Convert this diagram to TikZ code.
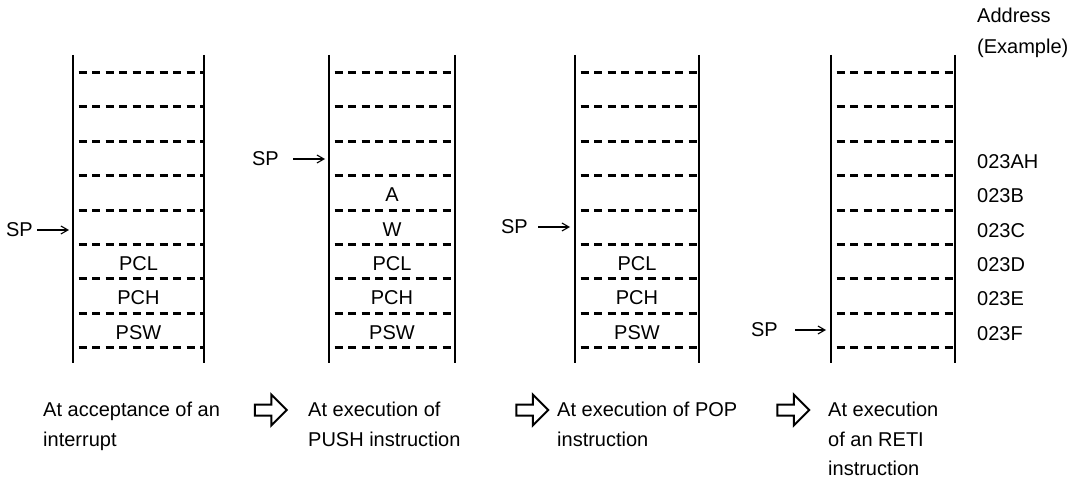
\documentclass[tikz,border=0pt]{standalone}
\usepackage{fontspec}
\setmainfont{Liberation Sans}
\usepackage{tikz}
\usetikzlibrary{positioning, arrows.meta, shapes.arrows}

\begin{document}
\begin{tikzpicture}[x=1pt, y=-1pt, node distance=4pt,
  txt/.style={font=\fontsize{20}{29.5}\selectfont, inner sep=0pt},
  captxt/.style={txt, align=left, anchor=north west},
  wall/.style={line width=2.2pt},
  cell/.style={line width=3pt, dash pattern=on 8pt off 5.5pt, dash phase=8pt},
  ptr/.style={line width=1.1pt, -{Straight Barb[length=7pt, width=8pt]}},
  next/.style={single arrow, draw, line width=2pt, minimum height=32pt,
    inner sep=4.5pt, single arrow head extend=10pt, single arrow head indent=0pt}]

\useasboundingbox (0,0) rectangle (1068,478);

% the four stacks
\foreach \n/\l/\r in {1/73/204, 2/329/455, 3/575/699, 4/831/955} {
  \draw[wall] (\l,55) -- (\l,363);
  \draw[wall] (\r,55) -- (\r,363);
  \foreach \k in {0,...,8}
    \draw[cell] (\l,{72.5+34.4*\k}) -- (\r,{72.5+34.4*\k});
}

% contents
\node[txt] (pcl1) at (138.5,263.7) {PCL};
\node[txt] (pch1) at (138.5,298.1) {PCH};
\node[txt] (psw1) at (138.5,332.5) {PSW};

\node[txt] (a2) at (392,194.9) {A};
\node[txt] (w2) at (392,229.3) {W};
\node[txt] (pcl2) at (392,263.7) {PCL};
\node[txt] (pch2) at (392,298.1) {PCH};
\node[txt] (psw2) at (392,332.5) {PSW};

\node[txt] (pcl3) at (637,263.7) {PCL};
\node[txt] (pch3) at (637,298.1) {PCH};
\node[txt] (psw3) at (637,332.5) {PSW};

% stack pointer
\coordinate (tip1) at (69,230);
\coordinate (tip2) at (325,159);
\coordinate (tip3) at (570,227);
\coordinate (tip4) at (826,330);
\node[txt, left=36pt of tip1] (sp1) {SP};
\node[txt, left=46pt of tip2] (sp2) {SP};
\node[txt, left=42pt of tip3] (sp3) {SP};
\node[txt, left=48pt of tip4] (sp4) {SP};
\draw[ptr, shorten <=4pt] (sp1) -- (tip1);
\draw[ptr, shorten <=14pt] (sp2) -- (tip2);
\draw[ptr, shorten <=10pt] (sp3) -- (tip3);
\draw[ptr, shorten <=17pt] (sp4) -- (tip4);

% addresses
\node[txt, anchor=west] (addr) at (977,15) {Address};
\node[txt, anchor=west] (exmp) at ([yshift=-33pt]addr.west) {(Example)};
\foreach \a [count=\k from 2] in {023AH,023B,023C,023D,023E,023F}
  \node[txt, anchor=west] (adr\k) at (977,{92.7+34.4*\k}) {\a};

% captions
\node[captxt] (c1) at (43,402) {At acceptance of an\\interrupt};
\node[captxt] (c2) at (308,402) {At execution of\\PUSH instruction};
\node[captxt] (c3) at (557,402) {At execution of POP\\instruction};
\node[captxt] (c4) at (828,402) {At execution\\of an RETI\\instruction};

\node[next] (n12) at (268,410) {};
\node[next] (n23) at (529.5,410) {};
\node[next] (n34) at (790.5,410) {};

\end{tikzpicture}
\end{document}
